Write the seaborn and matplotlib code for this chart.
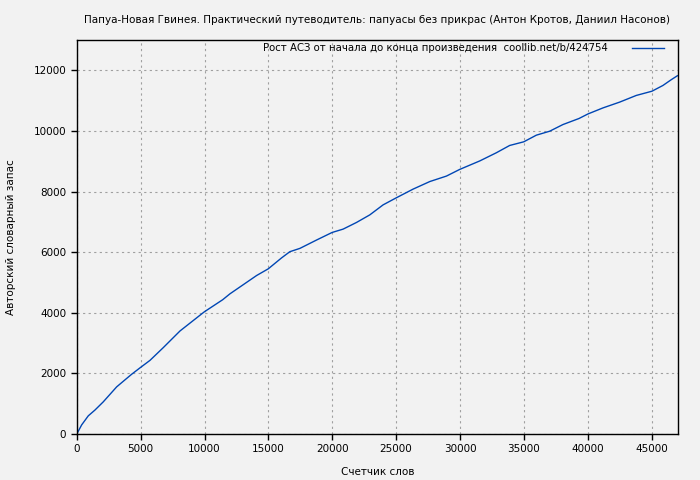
import pandas as pd
import matplotlib
matplotlib.use('Agg')
import matplotlib.pyplot as plt
import seaborn as sns

# word counter vs. unique words
words = [0, 380, 900, 1420, 2070, 3120, 3640, 4290, 4970, 5730, 6770, 8080,
         9980, 11420, 11990, 14080, 14990, 16030, 16680, 17470, 18770, 19990,
         20850, 21900, 22940, 23980, 25000, 26330, 27640, 28940, 29980, 31550,
         32850, 33890, 34990, 35980, 37020, 38060, 39320, 40020, 41200, 42500,
         43800, 45030, 45890, 46540, 47020]
vocab = [0, 300, 600, 790, 1060, 1555, 1740, 1970, 2190, 2430, 2850, 3400,
         4030, 4430, 4625, 5230, 5450, 5810, 6015, 6125, 6400, 6650,
         6760, 6980, 7230, 7560, 7790, 8080, 8330, 8510, 8730, 9010,
         9280, 9520, 9640, 9860, 9990, 10210, 10410, 10560, 10760, 10950,
         11170, 11310, 11500, 11690, 11820]

title = 'Папуа-Новая Гвинея. Практический путеводитель: папуасы без прикрас (Антон Кротов, Даниил Насонов)'
series_label = 'Рост АСЗ от начала до конца произведения  coollib.net/b/424754'

df = pd.DataFrame({'words': words, 'vocab': vocab})

plt.rcParams['font.family'] = ['DejaVu Sans']
plt.rcParams['font.size'] = 7.5

fig = plt.figure(figsize=(7, 4.8), dpi=100, facecolor='#f2f2f2')
ax = fig.add_axes([0.1097, 0.0958, 0.8589, 0.8209], facecolor='#f2f2f2')

sns.lineplot(data=df, x='words', y='vocab', ax=ax, color='#0046b4',
             linewidth=1, label=series_label)

ax.set_xlim(0, 47070)
ax.set_ylim(0, 13000)
ax.set_xticks(range(0, 45001, 5000))
ax.set_yticks(range(0, 12001, 2000))
ax.grid(True, color='#a0a0a0', linestyle=(0, (2, 3)), linewidth=0.8)
ax.tick_params(direction='out', length=4, width=1, colors='black', labelsize=7.5)
for s in ax.spines.values():
    s.set_color('black')
    s.set_linewidth(1)

ax.set_xlabel('Счетчик слов', fontsize=7.5, labelpad=9)
ax.set_ylabel('Авторский словарный запас', fontsize=7.5, labelpad=13)
ax.set_title(title, fontsize=7.5, pad=12)

leg = ax.legend(loc='upper right', bbox_to_anchor=(0.98, 0.997),
                frameon=False, markerfirst=False,
                handlelength=3.2, handletextpad=2.3, fontsize=7.3,
                borderaxespad=0, borderpad=0.2)

fig.savefig('out.png', dpi=100, facecolor=fig.get_facecolor())
